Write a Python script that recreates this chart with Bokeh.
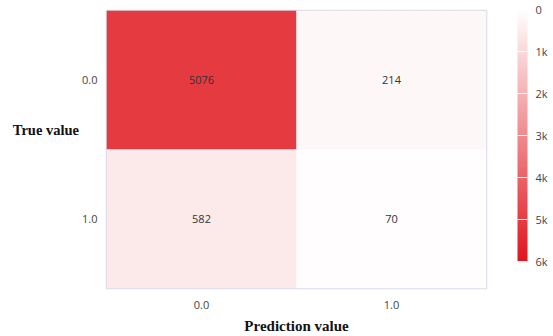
from bokeh.plotting import figure
from bokeh.models import (ColumnDataSource, LinearColorMapper, ColorBar, FixedTicker)
from bokeh.transform import transform
from bokeh.embed import file_html
from bokeh.resources import INLINE
from bokeh.core.properties import value

# Confusion matrix counts
true_labels = ["0.0", "0.0", "1.0", "1.0"]
pred_labels = ["0.0", "1.0", "0.0", "1.0"]
counts = [5076, 214, 582, 70]
tick_labels = ["0.0", "1.0"]
cbar_ticks = [0, 1000, 2000, 3000, 4000, 5000, 6000]
cbar_labels = ["0", "1k", "2k", "3k", "4k", "5k", "6k"]

# white -> red palette
def lerp(a, b, t):
    return int(round(a + (b - a) * t))

n = 256
lo, hi = (255, 255, 255), (224, 22, 30)
palette = ["#%02x%02x%02x" % tuple(lerp(lo[k], hi[k], i / (n - 1)) for k in range(3)) for i in range(n)]

xs = [float(v) for v in pred_labels]
ys = [float(v) for v in true_labels]
src = ColumnDataSource(dict(x=xs, y=ys, c=counts, t=[str(c) for c in counts]))

mapper = LinearColorMapper(palette=palette, low=0, high=6000)

p = figure(width=553, height=336, x_range=(-0.5, 1.5), y_range=(1.5, -0.5),
           output_backend="svg", toolbar_location=None,
           min_border_left=106, min_border_right=67, min_border_top=10, min_border_bottom=47)
p.rect(x="x", y="y", width=1, height=1, source=src,
       fill_color=transform("c", mapper), line_color=None)
p.text(x="x", y="y", text="t", source=src, text_align="center", text_baseline="middle",
       text_font=value("Open Sans"), text_font_size="11px", text_color="#333333")

p.grid.visible = False
p.outline_line_color = "#d8dbe8"
p.outline_line_width = 1.5
for ax in (p.xaxis[0], p.yaxis[0]):
    ax.ticker = FixedTicker(ticks=[0, 1])
    ax.major_label_overrides = {0: tick_labels[0], 1: tick_labels[1]}
    ax.axis_line_color = None
    ax.major_tick_line_color = None
    ax.minor_tick_line_color = None
    ax.major_label_text_font = "Open Sans"
    ax.major_label_text_font_size = "11px"
    ax.major_label_text_color = "#444444"
    ax.axis_label_text_font = "Liberation Serif"
    ax.axis_label_text_font_style = "bold"
    ax.axis_label_text_font_size = "15px"
    ax.axis_label_text_color = "#111111"
p.xaxis.major_label_standoff = 6
p.yaxis.major_label_standoff = 9
p.yaxis.major_tick_out = 0
p.yaxis.major_tick_in = 0

p.xaxis.axis_label = "Prediction value"
p.xaxis.axis_label_standoff = 6
# horizontal y title, lifted above the frame's middle by trailing blank lines
p.yaxis.axis_label = "True value\n \n "
p.yaxis.axis_label_orientation = "horizontal"
p.yaxis.axis_label_standoff = 0
p.yaxis.axis_label_text_font_size = "14.5px"

# Colour bar: 0 at the top, 6k at the bottom
rev_mapper = LinearColorMapper(palette=palette[::-1], low=0, high=6000)
cb = ColorBar(color_mapper=rev_mapper, width=10, height=252,
              ticker=FixedTicker(ticks=cbar_ticks),
              major_label_overrides={6000 - v: lab for v, lab in zip(cbar_ticks, cbar_labels)},
              major_label_text_font="Open Sans", major_label_text_font_size="11px",
              major_label_text_color="#444444",
              major_tick_line_color="white", major_tick_in=10, major_tick_out=0,
              bar_line_color=None, border_line_color=None, background_fill_color=None,
              padding=0, margin=0, label_standoff=8, location=(31, 27))
p.add_layout(cb, "right")

open("out.html", "w").write(file_html(p, INLINE))
